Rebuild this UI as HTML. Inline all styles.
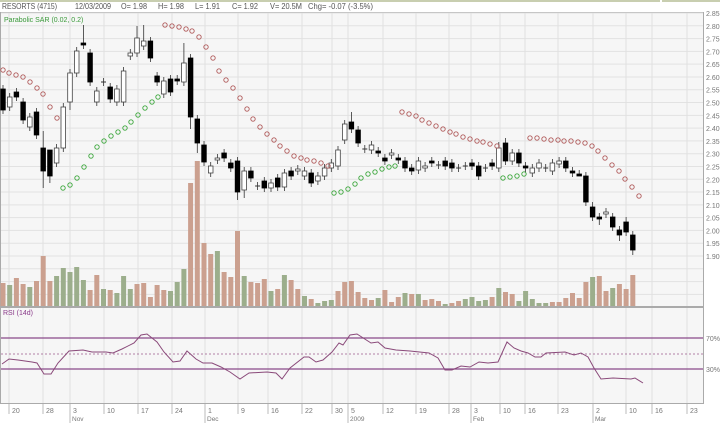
<!DOCTYPE html>
<html><head><meta charset="utf-8"><style>
html,body{margin:0;padding:0;background:#fff;}
svg{display:block;font-family:"Liberation Sans",sans-serif;}
</style></head><body>
<svg id="s" width="720" height="423" xmlns="http://www.w3.org/2000/svg">
<rect x="0" y="0" width="720" height="423" fill="#fff"/>
<rect x="0" y="0" width="660" height="2" fill="#c8ceb0"/>
<rect x="662" y="0" width="58" height="2" fill="#c8ceb0"/>
<g font-size="8" fill="#555">
<text x="2" y="9" textLength="55" lengthAdjust="spacingAndGlyphs">RESORTS (4715)</text>
<text x="75" y="9" textLength="36" lengthAdjust="spacingAndGlyphs">12/03/2009</text>
<text x="121" y="9" textLength="26" lengthAdjust="spacingAndGlyphs">O= 1.98</text>
<text x="158" y="9" textLength="26" lengthAdjust="spacingAndGlyphs">H= 1.98</text>
<text x="195" y="9" textLength="25" lengthAdjust="spacingAndGlyphs">L= 1.91</text>
<text x="232" y="9" textLength="26" lengthAdjust="spacingAndGlyphs">C= 1.92</text>
<text x="270" y="9" textLength="32" lengthAdjust="spacingAndGlyphs">V= 20.5M</text>
<text x="308" y="9" textLength="65" lengthAdjust="spacingAndGlyphs">Chg= -0.07 (-3.5%)</text>
</g>
<g id="g"></g>
</svg>
<script>
const NS="http://www.w3.org/2000/svg",g=document.getElementById('g');
function el(t,a,txt){const e=document.createElementNS(NS,t);for(const k in a)e.setAttribute(k,a[k]);if(txt!==undefined)e.textContent=txt;g.appendChild(e);return e;}
el('rect',{x:0.5,y:12.5,width:703,height:294,fill:'#f6f6f6',stroke:'#aaa'});
el('rect',{x:0.5,y:307.5,width:703,height:96,fill:'#f6f6f6',stroke:'#aaa'});
const ticks=[[9,'20'],[43,'28'],[70,'3','Nov'],[104,'10'],[138,'17'],[172,'24'],[205,'1','Dec'],[238,'9'],[268,'16'],[302,'22'],[332,'30'],[348,'5','2009'],[383,'12'],[416,'19'],[449,'28'],[471,'3','Feb'],[500,'10'],[525,'16'],[558,'23'],[593,'2','Mar'],[626,'10'],[652,'16'],[687,'23']];
for(let i=0;i<=19;i++){const y=13+i*12.79;el('line',{x1:1,x2:703,y1:y,y2:y,stroke:'#e2e2e2','stroke-width':1});
 el('text',{x:706,y:y+3,'font-size':7,fill:'#777'},(2.85-i*0.05).toFixed(2));}
for(let i=1;i<=3;i++){const y=256+i*12.79;el('line',{x1:1,x2:703,y1:y,y2:y,stroke:'#e2e2e2'});}
ticks.forEach(t=>{el('line',{x1:t[0],x2:t[0],y1:13,y2:306,stroke:'#e0e0e0'});el('line',{x1:t[0],x2:t[0],y1:308,y2:403,stroke:'#e0e0e0'});
 el('line',{x1:t[0],x2:t[0],y1:404,y2:t[2]?423:414,stroke:'#bbb'});
 el('text',{x:t[0]+3,y:413,'font-size':7,fill:'#777'},t[1]);
 if(t[2])el('text',{x:t[0]+2,y:421,'font-size':6.5,fill:'#777'},t[2]);});
el('text',{x:4,y:22,'font-size':7,fill:'#3a9a3a'},'Parabolic SAR (0.02, 0.2)');
const vt=[283,285,278,284,287,281,256,281,276,268,272,267,280,290,275,289,290,293,276,289,284,283,297,285,290,291,282,269,183,161,243,254,251,272,277,231,276,282,283,279,291,289,275,280,289,296,299,303,301,300,291,282,281,292,298,300,298,290,302,297,293,294,294,300,299,301,304,303,301,299,297,301,300,297,288,292,294,301,291,299,303,303,302,302,298,293,298,282,277,276,291,288,284,289,275];
const vc="rgrrgrrrgggggrrgrgggrrrrrgggrrrrgrrrgrrrgrgrrgrgggrrrrrrgrrrgrgrrrgrrggggrgrrgggggrrrrrrgrrgr";
const X=i=>3+i*6.7;
vt.forEach((t,i)=>{el('rect',{x:X(i)-2.5,y:t,width:5,height:306-t,fill:vc[i]=='g'?'#9cae8c':'#cba08f'});});
const c=[[89,110,0],[97,107,1],[92,97,0],[102,120,0],[117,127,1],[112,135,0],[148,171,0],[150,176,0],[148,163,1],[107,148,1],[73,102,1],[51,73,1],[43,45,0],[53,82,0],[91,102,1],[82,82,2],[87,99,0],[89,102,1],[71,102,1],[53,56,1],[38,53,1],[41,46,1],[41,58,0],[76,82,0],[81,94,1],[79,92,0],[79,81,0],[63,82,1],[58,117,0],[119,143,0],[145,162,0],[166,173,1],[158,160,1],[153,158,0],[163,168,0],[161,192,0],[171,190,1],[171,178,0],[186,186,2],[181,188,0],[183,188,1],[178,187,0],[173,187,1],[171,176,0],[169,171,1],[171,176,1],[173,183,0],[176,181,1],[168,176,1],[163,168,1],[150,166,1],[124,140,1],[122,129,0],[130,143,0],[149,149,2],[145,150,1],[151,153,0],[158,161,0],[153,155,1],[158,160,0],[161,168,0],[168,171,0],[161,170,1],[166,168,1],[161,163,0],[165,165,2],[161,166,0],[163,168,0],[168,168,2],[166,166,2],[163,166,0],[166,176,0],[168,168,2],[163,166,0],[148,168,1],[143,161,0],[153,161,1],[153,163,0],[166,168,0],[168,173,1],[163,168,1],[168,168,2],[163,171,1],[161,164,1],[161,168,0],[171,173,0],[174,176,0],[176,202,0],[207,217,0],[217,219,0],[212,214,1],[217,227,0],[230,235,0],[222,232,0],[235,250,0]];
const hi={6:-17,12:-18,20:-12,21:-16,27:-20,7:0,52:-10,74:-6,75:-5,88:-5,90:-4,93:-5};
const lo={6:17,7:7,28:12,29:10,35:8,36:8,86:0,89:6,92:6,94:5,10:8};
c.forEach((d,i)=>{const x=X(i);let t=d[0],b=d[1];const h=t-(hi[i]!==undefined?-hi[i]:4),l=b+(lo[i]!==undefined?lo[i]:4);
 el('line',{x1:x,x2:x,y1:h,y2:l,stroke:'#333','stroke-width':0.8});
 if(d[2]==2){el('line',{x1:x-2.5,x2:x+2.5,y1:t,y2:t,stroke:'#333'});return;}
 if(b-t<2)b=t+2;
 el('rect',{x:x-2.3,y:t,width:4.6,height:b-t,fill:d[2]?'#fff':'#000',stroke:d[2]?'#444':'#000','stroke-width':0.8});});
const red=[[3,70],[9,73],[16,75],[23,77],[30,82],[37,88],[43,94],[50,107],[57,118],[165,25],[172,26],[179,27],[186,29],[192,31],[199,37],[206,47],[213,58],[219,71],[226,80],[233,88],[240,98],[247,109],[253,119],[260,127],[267,134],[274,140],[280,146],[287,151],[294,156],[301,158],[307,160],[314,161],[321,163],[328,166],[402,112],[409,114],[416,116],[422,120],[429,123],[436,126],[443,129],[450,132],[456,134],[463,137],[470,139],[477,141],[483,142],[490,144],[497,146],[530,138],[537,138],[544,139],[551,140],[558,140],[564,141],[571,141],[578,142],[585,143],[592,146],[598,151],[605,158],[612,165],[619,171],[625,179],[632,187],[639,196]];
const grn=[[63,188],[70,185],[77,178],[84,167],[91,156],[97,147],[104,141],[111,136],[118,132],[125,128],[131,122],[138,115],[145,108],[152,102],[158,97],[334,193],[341,192],[348,189],[355,184],[361,178],[368,174],[375,172],[382,169],[389,167],[395,166],[503,178],[510,177],[517,176],[524,174]];
red.forEach(p=>el('circle',{cx:p[0],cy:p[1],r:2.2,fill:'none',stroke:'#b05a5a','stroke-width':0.9}));
grn.forEach(p=>el('circle',{cx:p[0],cy:p[1],r:2.2,fill:'none',stroke:'#3aa63a','stroke-width':0.9}));
el('text',{x:3,y:315,'font-size':7,fill:'#8a3a8a'},'RSI (14d)');
el('line',{x1:1,x2:703,y1:338,y2:338,stroke:'#8a4a8a','stroke-width':1.2});
el('line',{x1:1,x2:703,y1:369,y2:369,stroke:'#8a4a8a','stroke-width':1.2});
el('line',{x1:1,x2:703,y1:354,y2:354,stroke:'#9a5a8a','stroke-width':0.8,'stroke-dasharray':'2,2'});
el('text',{x:706,y:341,'font-size':7,fill:'#777'},'70%');
el('text',{x:706,y:372,'font-size':7,fill:'#777'},'30%');
const r=[[2,364],[9,359],[18,360],[32,362],[37,363],[44,374],[51,374],[58,363],[69,351],[83,350],[92,352],[106,352],[113,353],[122,349],[134,343],[141,335],[147,334],[157,342],[164,352],[173,362],[180,361],[187,351],[196,359],[203,363],[212,363],[221,367],[230,372],[240,379],[249,373],[267,372],[276,373],[282,379],[290,368],[304,357],[309,357],[316,362],[323,360],[332,352],[339,343],[343,345],[350,335],[357,334],[371,343],[378,342],[385,348],[396,350],[410,351],[429,353],[438,358],[445,370],[452,370],[461,366],[470,367],[479,362],[488,363],[498,362],[507,342],[514,348],[521,351],[528,353],[535,357],[541,357],[546,353],[565,352],[574,355],[581,353],[588,357],[594,368],[601,379],[613,378],[631,379],[635,378],[643,383]];
el('polyline',{points:r.map(p=>p.join(',')).join(' '),fill:'none',stroke:'#8a4a7a','stroke-width':1});
</script>
</body></html>
